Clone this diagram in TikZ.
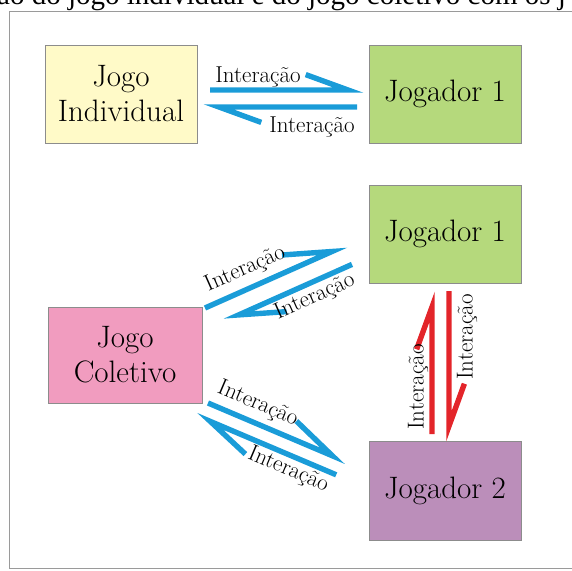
\documentclass[tikz,border=0pt]{standalone}
\usepackage{fontspec}
\newfontfamily\capfont{Liberation Serif}
\definecolor{boxyellow}{HTML}{FFFAC8}
\definecolor{boxgreen}{HTML}{B5D97C}
\definecolor{boxpink}{HTML}{F19CBF}
\definecolor{boxpurple}{HTML}{BB8EBA}
\definecolor{arrblue}{HTML}{1A9CD8}
\definecolor{arrred}{HTML}{E3252A}
\definecolor{framegray}{HTML}{9A9A9A}
\begin{document}
\begin{tikzpicture}[x=1pt,y=-1pt,
  box/.style={draw=black!45, line width=0.7pt, minimum width=152pt, minimum height=98pt,
    inner sep=0pt, align=center, font=\fontsize{31}{35}\selectfont, text=black},
  lbl/.style={font=\fontsize{23}{25}\selectfont, inner sep=0pt, text=black},
  bluearr/.style={draw=arrblue, line width=5.4pt, line join=miter, miter limit=20},
  redarr/.style={draw=arrred, line width=5.4pt, line join=miter, miter limit=20}]
\useasboundingbox (0,0) rectangle (572,570);
% caption fragment
\begin{scope}
  \clip (0,0) rectangle (572,570);
  \node[anchor=base west, inner sep=0pt, font=\capfont\fontsize{29}{30}\selectfont] (cap) at (-3,5) {ão do jogo individual e do jogo coletivo com os j};
\end{scope}
% frame
\draw[framegray, line width=1pt] (580,11) -- (9,11) -- (9,568) -- (580,568);
% boxes
\node[box, fill=boxyellow] (ji) at (121,94) {Jogo\\Individual};
\node[box, fill=boxgreen] (j1a) at (445,94) {Jogador 1};
\node[box, fill=boxgreen] (j1b) at (445,234) {Jogador 1};
\node[box, fill=boxpink, minimum width=154pt, minimum height=96pt] (jc) at (125,355) {Jogo\\Coletivo};
\node[box, fill=boxpurple, minimum height=99pt] (j2) at (445,490.5) {Jogador 2};
% top pair
\coordinate (a1t) at (210,90);
\coordinate (a1v) at (348,90);
\coordinate (a1b) at (305.7,74.6);
\coordinate (a2t) at (357,107);
\coordinate (a2v) at (219,107);
\coordinate (a2b) at (261.3,122.4);
\draw[bluearr] (a1t) -- (a1v) -- (a1b);
\draw[bluearr] (a2t) -- (a2v) -- (a2b);
\node[lbl, anchor=base] (l1) at (258,82) {Interação};
\node[lbl, anchor=base] (l2) at (312,132) {Interação};
% middle pair (Coletivo - Jogador 1)
\coordinate (b1t) at (205,308);
\coordinate (b1v) at (332,251.5);
\coordinate (b1b) at (282,255);
\coordinate (b2t) at (352,264.4);
\coordinate (b2v) at (238.7,314.9);
\coordinate (b2b) at (286.6,311.6);
\draw[bluearr] (b1t) -- (b1v) -- (b1b);
\draw[bluearr] (b2t) -- (b2v) -- (b2b);
\node[lbl, rotate=24] (l3) at (245.2,269.2) {Interação};
\node[lbl, rotate=24] (l4) at (314.8,296.8) {Interação};
% lower pair (Coletivo - Jogador 2)
\coordinate (c1t) at (208,403);
\coordinate (c1v) at (332.4,455.8);
\coordinate (c1b) at (296.4,421.1);
\coordinate (c2t) at (336.2,474.8);
\coordinate (c2v) at (210.3,421.4);
\coordinate (c2b) at (245.4,454.1);
\draw[bluearr] (c1t) -- (c1v) -- (c1b);
\draw[bluearr] (c2t) -- (c2v) -- (c2b);
\node[lbl, rotate=-23] (l5) at (257.8,404.2) {Interação};
\node[lbl, rotate=-23] (l6) at (288.2,469.8) {Interação};
% red pair (Jogador 1 - Jogador 2)
\coordinate (d1t) at (432,434);
\coordinate (d1v) at (432,307);
\coordinate (d1b) at (416.6,349.3);
\coordinate (d2t) at (449,291);
\coordinate (d2v) at (449,426);
\coordinate (d2b) at (464.4,383.7);
\draw[redarr] (d1t) -- (d1v) -- (d1b);
\draw[redarr] (d2t) -- (d2v) -- (d2b);
\node[lbl, rotate=90] (l7) at (418,387) {Interação};
\node[lbl, rotate=90] (l8) at (467,337) {Interação};
\end{tikzpicture}
\end{document}
